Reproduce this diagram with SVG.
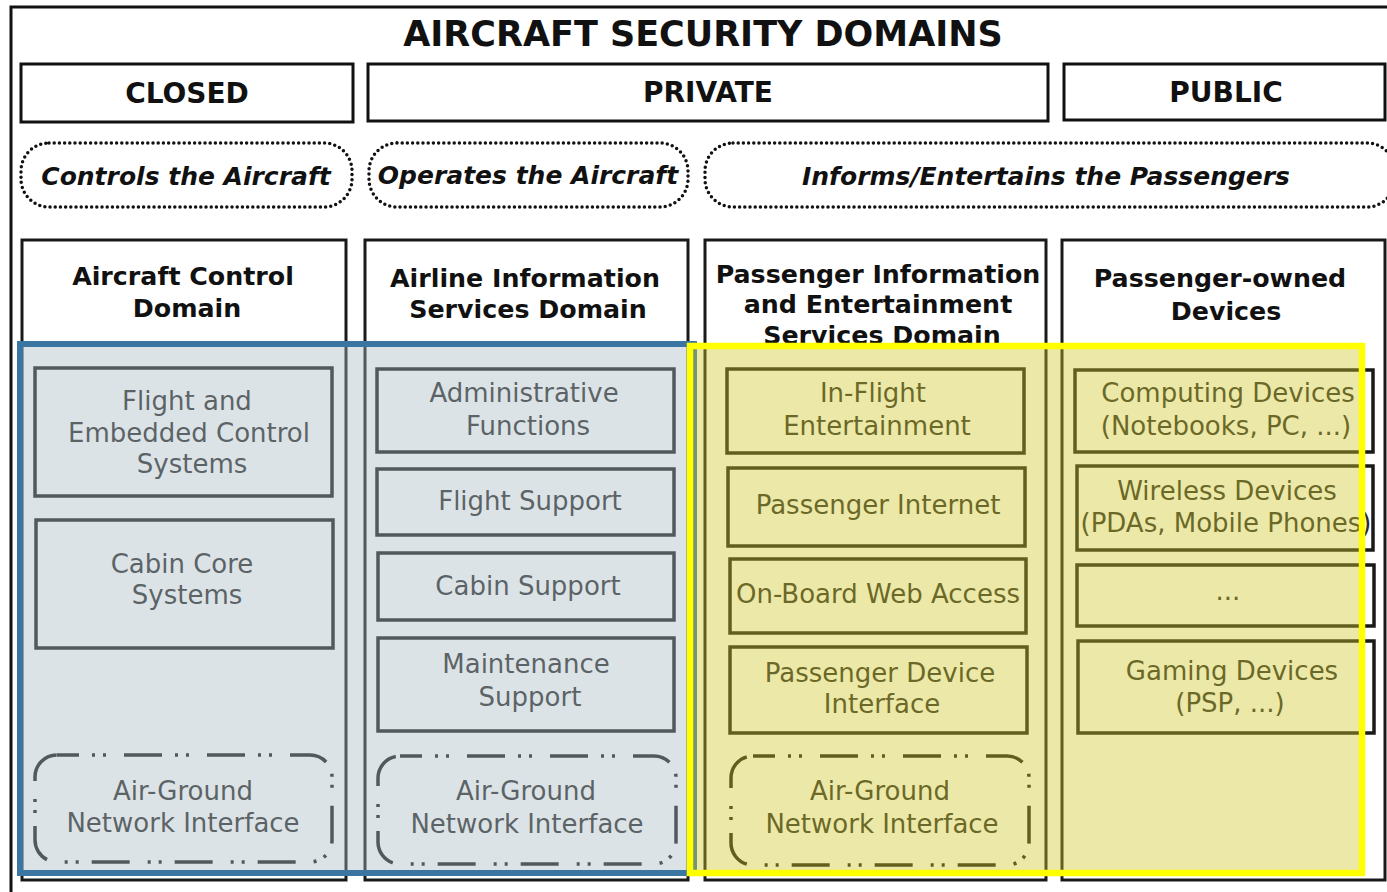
<svg xmlns="http://www.w3.org/2000/svg" width="1387" height="892" viewBox="0 0 1387 892">
  <style>
    text { font-family: "DejaVu Sans", "Liberation Sans", sans-serif; text-anchor: middle; }
    .title { font-size: 35px; font-weight: bold; fill: #111; }
    .zone { font-size: 28px; font-weight: bold; fill: #111; }
    .role { font-size: 25px; font-weight: bold; font-style: italic; fill: #111; }
    .head { font-size: 25.3px; font-weight: bold; fill: #111; }
    .item { font-size: 26px; fill: #2a2a2a; }
    .frame { fill: #fff; stroke: #111; stroke-width: 3; }
    .col { fill: #fff; stroke: #1a1a1a; stroke-width: 3; }
    .box { fill: none; stroke: #1a1a1a; stroke-width: 3.5; }
    .dotted { fill: #fff; stroke: #111; stroke-width: 3.5; stroke-dasharray: 0 5.2; stroke-linecap: round; }
    .dashdot { fill: none; stroke: #1a1a1a; stroke-width: 3.5; stroke-dasharray: 38 13 3 8 3 18; stroke-dashoffset: 16; }
    .blue { fill: rgb(167,185,192); fill-opacity: 0.4; stroke: #3A76A1; stroke-width: 6; }
    .yellow { fill: rgb(205,197,37); fill-opacity: 0.4; stroke: #FFFF00; stroke-width: 6.5; }
  </style>

  <rect width="1387" height="892" fill="#fff"/>

  <!-- outer frame, running off the right and bottom edges -->
  <rect id="frame" class="frame" x="11" y="7" width="1400" height="900"/>

  <g id="title">
    <text class="title" x="703" y="46">AIRCRAFT SECURITY DOMAINS</text>
  </g>

  <!-- security zones -->
  <g id="zone-closed">
    <rect class="frame" x="21" y="64" width="332" height="58"/>
    <text class="zone" x="187" y="103">CLOSED</text>
  </g>
  <g id="zone-private">
    <rect class="frame" x="368" y="64" width="680" height="57"/>
    <text class="zone" x="708" y="102">PRIVATE</text>
  </g>
  <g id="zone-public">
    <rect class="frame" x="1064" y="64" width="321" height="56"/>
    <text class="zone" x="1226" y="102">PUBLIC</text>
  </g>

  <!-- roles -->
  <g id="role-controls">
    <rect class="dotted" x="21" y="143" width="331" height="64" rx="28"/>
    <text class="role" x="186" y="185">Controls the Aircraft</text>
  </g>
  <g id="role-operates">
    <rect class="dotted" x="369" y="143" width="319" height="64" rx="28"/>
    <text class="role" x="528" y="184">Operates the Aircraft</text>
  </g>
  <g id="role-informs">
    <rect class="dotted" x="705" y="143" width="690" height="64" rx="28"/>
    <text class="role" x="1046" y="185">Informs/Entertains the Passengers</text>
  </g>

  <!-- domain columns -->
  <g id="aircraft-control-domain">
    <rect class="col" x="22" y="240" width="324" height="640"/>
    <text class="head" x="183" y="285">Aircraft Control</text>
    <text class="head" x="187" y="317">Domain</text>
    <rect class="box" x="35" y="368" width="297" height="128"/>
    <text class="item" x="187" y="410">Flight and</text>
    <text class="item" x="189" y="442">Embedded Control</text>
    <text class="item" x="192" y="473">Systems</text>
    <rect class="box" x="36" y="520" width="297" height="128"/>
    <text class="item" x="182" y="573">Cabin Core</text>
    <text class="item" x="187" y="604">Systems</text>
    <rect class="dashdot" x="35" y="755" width="297" height="107" rx="22"/>
    <text class="item" x="183" y="800">Air-Ground</text>
    <text class="item" x="183" y="832">Network Interface</text>
  </g>

  <g id="airline-information-services-domain">
    <rect class="col" x="365" y="240" width="323" height="640"/>
    <text class="head" x="525" y="287">Airline Information</text>
    <text class="head" x="528" y="318">Services Domain</text>
    <rect class="box" x="377" y="369" width="297" height="83"/>
    <text class="item" x="524" y="402">Administrative</text>
    <text class="item" x="528" y="435">Functions</text>
    <rect class="box" x="377" y="469" width="297" height="66"/>
    <text class="item" x="530" y="510">Flight Support</text>
    <rect class="box" x="378" y="553" width="296" height="67"/>
    <text class="item" x="528" y="595">Cabin Support</text>
    <rect class="box" x="378" y="638" width="296" height="93"/>
    <text class="item" x="526" y="673">Maintenance</text>
    <text class="item" x="530" y="706">Support</text>
    <rect class="dashdot" x="378" y="756" width="298" height="108" rx="22"/>
    <text class="item" x="526" y="800">Air-Ground</text>
    <text class="item" x="527" y="833">Network Interface</text>
  </g>

  <g id="passenger-information-entertainment-domain">
    <rect class="col" x="705" y="240" width="341" height="640"/>
    <text class="head" x="878" y="283">Passenger Information</text>
    <text class="head" x="878" y="313">and Entertainment</text>
    <text class="head" x="882" y="344">Services Domain</text>
    <rect class="box" x="727" y="369" width="297" height="84"/>
    <text class="item" x="873" y="402">In-Flight</text>
    <text class="item" x="877" y="435">Entertainment</text>
    <rect class="box" x="728" y="468" width="297" height="78"/>
    <text class="item" x="878" y="514">Passenger Internet</text>
    <rect class="box" x="730" y="559" width="296" height="74"/>
    <text class="item" x="878" y="603">On-Board Web Access</text>
    <rect class="box" x="730" y="647" width="297" height="86"/>
    <text class="item" x="880" y="682">Passenger Device</text>
    <text class="item" x="882" y="713">Interface</text>
    <rect class="dashdot" x="731" y="756" width="298" height="109" rx="22"/>
    <text class="item" x="880" y="800">Air-Ground</text>
    <text class="item" x="882" y="833">Network Interface</text>
  </g>

  <g id="passenger-owned-devices">
    <rect class="col" x="1062" y="240" width="323" height="640"/>
    <text class="head" x="1220" y="287">Passenger-owned</text>
    <text class="head" x="1226" y="320">Devices</text>
    <rect class="box" x="1075" y="370" width="298" height="82"/>
    <text class="item" x="1228" y="402">Computing Devices</text>
    <text class="item" x="1226" y="435">(Notebooks, PC, ...)</text>
    <rect class="box" x="1077" y="466" width="296" height="84"/>
    <text class="item" x="1227" y="500">Wireless Devices</text>
    <text class="item" x="1226" y="532">(PDAs, Mobile Phones)</text>
    <rect class="box" x="1077" y="565" width="297" height="61"/>
    <text class="item" x="1228" y="600">...</text>
    <rect class="box" x="1078" y="641" width="296" height="92"/>
    <text class="item" x="1232" y="680">Gaming Devices</text>
    <text class="item" x="1230" y="712">(PSP, ...)</text>
  </g>

  <!-- highlight overlays -->
  <g id="highlight-aircraft-airline">
    <rect class="blue" x="20" y="344" width="674" height="529"/>
  </g>
  <g id="highlight-passenger">
    <rect class="yellow" x="690" y="346" width="672" height="527"/>
  </g>
</svg>
